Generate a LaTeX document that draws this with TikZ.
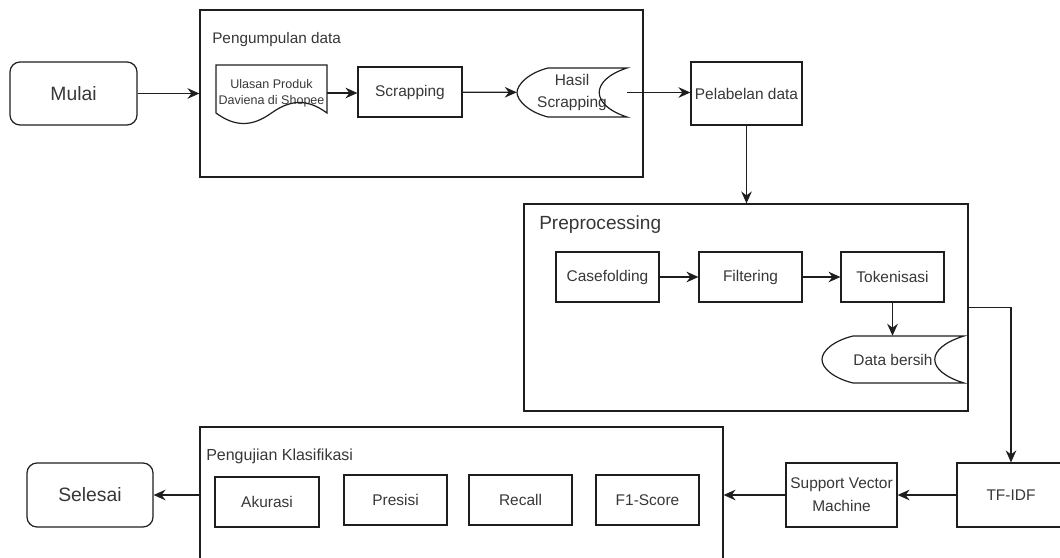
\documentclass[tikz,border=0pt]{standalone}
\usepackage{fontspec}
\setmainfont{Liberation Sans}
\usetikzlibrary{arrows.meta,positioning}

\definecolor{txtgray}{RGB}{55,55,55}
\definecolor{linegray}{RGB}{30,30,30}

\tikzset{
  ln/.style={draw=linegray, line width=0.9pt},
  arr/.style={ln, -{Stealth[length=9pt, width=8pt, inset=3pt]}},
  px/.style 2 args={minimum width=#1*0.75pt, minimum height=#2*0.75pt},
  txtmain/.style={text=txtgray, font=\fontsize{11.6}{17}\selectfont, align=center, inner sep=0pt},
  stepbox/.style={ln, txtmain},
  endbox/.style={ln, txtmain, rounded corners=7.5pt, font=\fontsize{14.5}{17}\selectfont},
  groupbox/.style={ln, inner sep=0pt},
  grouptitle/.style={text=txtgray, anchor=west, inner sep=0pt},
}

\begin{document}
\begin{tikzpicture}[x=0.75pt, y=-0.75pt]
    \useasboundingbox (0,0) rectangle (1060,557);
    \clip (0,0) rectangle (1060,557);

    % kelompok
    \node[groupbox, px={443}{167}] (kumpul) at (421.5,93.5) {};
    \node[groupbox, px={444}{207}] (prepro) at (746,307.5) {};
    \node[groupbox, px={523}{150}] (uji) at (461.5,502) {};
    \node[grouptitle, font=\fontsize{11.5}{14}\selectfont] (judulkumpul) at (212,40) {Pengumpulan data};
    \node[grouptitle, font=\fontsize{14.3}{17}\selectfont] (judulprepro) at (539,225) {Preprocessing};
    \node[grouptitle, font=\fontsize{12}{14}\selectfont] (judululi) at (206,456) {Pengujian Klasifikasi};

    % langkah
    \node[endbox, px={127}{63}] (mulai) at (73.5,93.5) {Mulai};
    \node[txtmain, px={111}{56}, font=\fontsize{9.4}{12}\selectfont] (ulasan) at (271.5,93) {Ulasan Produk\\Daviena di Shopee};
    \node[stepbox, px={104}{50}] (scrap) at (410,92) {Scrapping};
    \node[txtmain, px={110}{49}] (hasil) at (572,92.5) {Hasil\\Scrapping};
    \node[stepbox, px={111}{63}] (label) at (746.5,93.5) {Pelabelan data};
    \node[stepbox, px={103}{50}] (casefold) at (607.5,277) {Casefolding};
    \node[stepbox, px={103}{50}] (filter) at (750.5,277) {Filtering};
    \node[stepbox, px={103}{50}] (token) at (892.5,277) {Tokenisasi};
    \node[txtmain, px={142}{47}] (bersih) at (893,359.5) {Data bersih};
    \node[stepbox, px={108}{64}] (tfidf) at (1011,495) {TF-IDF};
    \node[stepbox, px={111}{64}] (svm) at (841.5,495) {Support Vector\\Machine};
    \node[stepbox, px={104}{50}] (akurasi) at (267,502) {Akurasi};
    \node[stepbox, px={103}{50}] (presisi) at (395.5,500) {Presisi};
    \node[stepbox, px={103}{50}] (recall) at (520.5,500) {Recall};
    \node[stepbox, px={103}{50}] (fscore) at (647.5,500) {F1-Score};
    \node[endbox, px={126}{64}] (selesai) at (90,495) {Selesai};

    % bentuk dokumen dan data tersimpan
    \draw[ln] (216,65) -- (216,113) .. controls (235,127) and (252,127) .. (271.5,113)
        .. controls (291,99) and (308,99) .. (327,113) -- (327,65) -- cycle;
    \draw[ln] (548,68) -- (627,68) .. controls (590,80) and (590,105) .. (627,117) -- (548,117)
        .. controls (528,112) and (517,100) .. (517,92.5) .. controls (517,85) and (528,73) .. (548,68);
    \draw[ln] (853,336) -- (964,336) .. controls (925,348) and (925,371) .. (964,383) -- (853,383)
        .. controls (833,378) and (822,368) .. (822,359.5) .. controls (822,351) and (833,341) .. (853,336);

    % panah
    \draw[arr] (mulai) -- (kumpul.west |- mulai.east);
    \draw[arr] (ulasan) -- (scrap.west |- ulasan.east);
    \draw[arr] (scrap) -- (hasil);
    \draw[arr] (hasil) -- (label.west |- hasil.east);
    \draw[arr] (label) -- (prepro.north -| label.south);
    \draw[arr] (casefold) -- (filter);
    \draw[arr] (filter) -- (token);
    \draw[arr] (token) -- (bersih.north -| token.south);
    \draw[arr] (prepro.east) -| (tfidf.north);
    \draw[arr] (tfidf) -- (svm);
    \draw[arr] (svm) -- (uji.east |- svm.west);
    \draw[arr] (uji.west |- selesai.east) -- (selesai);
\end{tikzpicture}
\end{document}
